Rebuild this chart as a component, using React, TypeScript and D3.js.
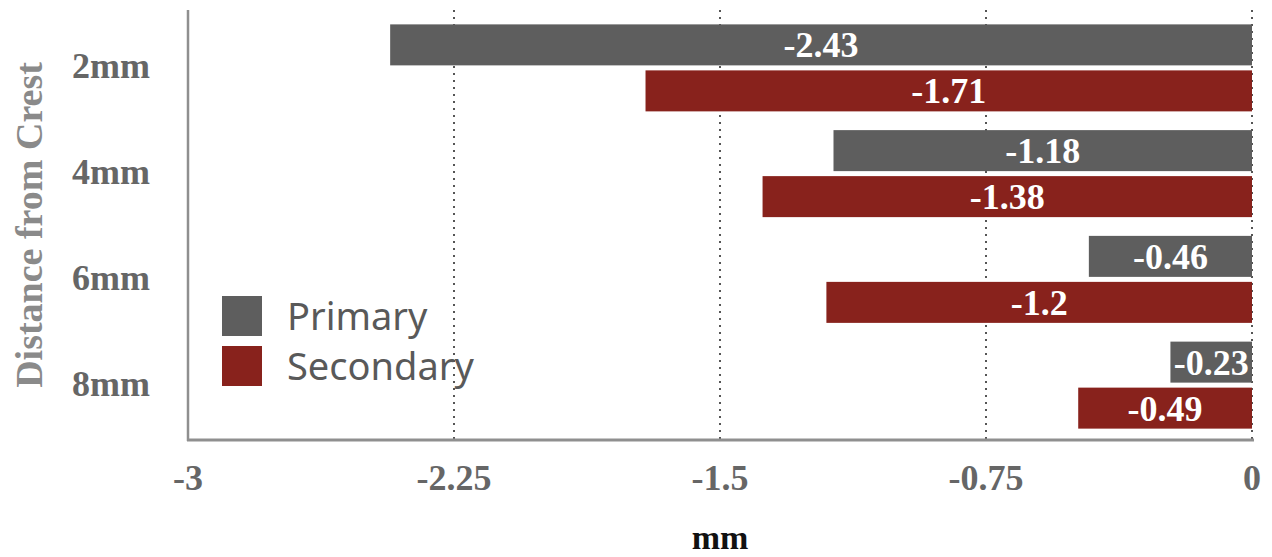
import React from "react";
import * as d3 from "d3";

const categories = ["2mm", "4mm", "6mm", "8mm"];
const seriesNames = ["Primary", "Secondary"];
const primaryValues = [-2.43, -1.18, -0.46, -0.23];
const secondaryValues = [-1.71, -1.38, -1.2, -0.49];
const xTicks = [-3, -2.25, -1.5, -0.75, 0];
const gridTicks = [-2.25, -1.5, -0.75, 0];

const W = 1272;
const H = 557;
const colors = ["#5e5e5e", "#88221c"];
const serif = "'Liberation Serif', 'Times New Roman', serif";
const sans = "'Noto Sans', 'Open Sans', sans-serif";

export default function App() {
  const x = d3.scaleLinear().domain([-3, 0]).range([188, 1252]);
  const y = d3.scaleBand<string>().domain(categories).range([15, 438]);
  const barH = 41;
  const gap = 5;
  const series = [primaryValues, secondaryValues];

  return (
    <svg
      width={W}
      height={H}
      style={{ position: "absolute", left: 0, top: 0, background: "#fff" }}
    >
      {/* vertical dotted grid */}
      {gridTicks.map((t) => (
        <line
          key={"g" + t}
          x1={x(t)}
          x2={x(t)}
          y1={10}
          y2={440}
          stroke="#555"
          strokeWidth={2}
          strokeDasharray="2,5"
        />
      ))}

      {/* bars */}
      {categories.map((c, i) => {
        const cy = (y(c) as number) + y.bandwidth() / 2;
        return series.map((vals, s) => {
          const v = vals[i];
          const y0 = s === 0 ? cy - gap / 2 - barH : cy + gap / 2;
          const x0 = x(v);
          const x1 = x(0);
          return (
            <g key={c + s}>
              <rect x={x0} y={y0} width={x1 - x0} height={barH} fill={colors[s]} />
              <text
                x={(x0 + x1) / 2}
                y={y0 + barH / 2}
                dy="0.35em"
                textAnchor="middle"
                fill="#fff"
                fontFamily={serif}
                fontWeight="bold"
                fontSize={36}
              >
                {String(v)}
              </text>
            </g>
          );
        });
      })}

      {/* axes */}
      <line x1={188} x2={188} y1={10} y2={441} stroke="#8f8f8f" strokeWidth={2.5} />
      <line x1={187} x2={1254} y1={440} y2={440} stroke="#8f8f8f" strokeWidth={3} />

      {/* category labels */}
      {categories.map((c) => (
        <text
          key={"c" + c}
          x={150}
          y={(y(c) as number) + y.bandwidth() / 2 - 2}
          dy="0.35em"
          textAnchor="end"
          fill="#666"
          fontFamily={serif}
          fontWeight="bold"
          fontSize={36}
        >
          {c}
        </text>
      ))}

      {/* x tick labels */}
      {xTicks.map((t) => (
        <text
          key={"t" + t}
          x={x(t)}
          y={490}
          textAnchor="middle"
          fill="#666"
          fontFamily={serif}
          fontWeight="bold"
          fontSize={36}
        >
          {String(t)}
        </text>
      ))}

      {/* axis titles */}
      <text
        x={720}
        y={549}
        textAnchor="middle"
        fill="#111"
        fontFamily={serif}
        fontWeight="bold"
        fontSize={34}
      >
        mm
      </text>
      <text
        transform="translate(42,225) rotate(-90)"
        textAnchor="middle"
        fill="#8a8a8a"
        fontFamily={serif}
        fontWeight="bold"
        fontSize={38}
      >
        Distance from Crest
      </text>

      {/* legend */}
      {seriesNames.map((n, s) => (
        <g key={"l" + n} transform={`translate(222,${296 + s * 50})`}>
          <rect width={40} height={40} fill={colors[s]} />
          <text
            x={65}
            y={20}
            dy="0.36em"
            fill="#595959"
            fontFamily={sans}
            fontSize={38}
          >
            {n}
          </text>
        </g>
      ))}
    </svg>
  );
}
